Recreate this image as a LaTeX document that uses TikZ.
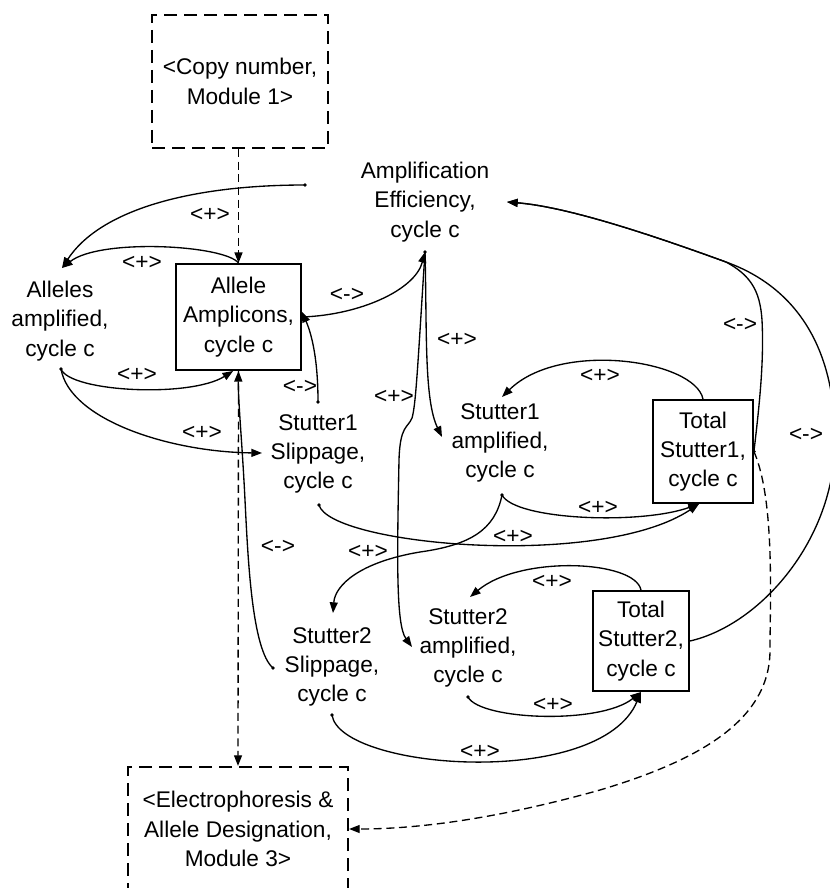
\documentclass[tikz,border=0pt]{standalone}
\usepackage{fontspec}
\setmainfont{Liberation Sans}
\usetikzlibrary{arrows.meta}

\tikzset{every picture/.style={line width=1pt},
  lbl/.style={font=\fontsize{17}{22}\selectfont, align=center, inner sep=0pt},
  box/.style={lbl, draw, line width=1.4pt},
  modbox/.style={lbl, draw, line width=1.6pt, dash pattern=on 10pt off 5pt},
  sgn/.style={font=\fontsize{17}{22}\selectfont, inner sep=0pt},
  link/.style={-{Triangle[length=8pt,width=6pt]}},
  dlink/.style={link, dash pattern=on 6pt off 3.5pt}
}

\begin{document}
\begin{tikzpicture}[x=0.75pt,y=0.75pt,yscale=-1,xscale=1]
\useasboundingbox (0,0) rectangle (829,888);
% modules
\node [modbox, minimum width=132pt, minimum height=99.75pt] (cpy) at (240,81.5) {<Copy number,\\Module 1>};
\node [modbox, minimum width=165pt, minimum height=93pt] (elec) at (238,829) {<Electrophoresis \&\\Allele Designation,\\Module 3>};
% stocks
\node [box, minimum width=93.75pt, minimum height=79.5pt] (aa) at (238.5,317) {Allele\\Amplicons,\\cycle c};
\node [box, minimum width=75pt, minimum height=77.25pt] (ts1) at (703,451.5) {Total\\Stutter1,\\cycle c};
\node [box, minimum width=72pt, minimum height=75pt] (ts2) at (641,641) {Total\\Stutter2,\\cycle c};
% variables
\node [lbl] (ae) at (425,202) {Amplification\\Efficiency,\\cycle c};
\node [lbl] (alamp) at (60,321) {Alleles\\amplified,\\cycle c};
\node [lbl] (s1s) at (318,454) {Stutter1\\Slippage,\\cycle c};
\node [lbl] (s1a) at (500,443) {Stutter1\\amplified,\\cycle c};
\node [lbl] (s2s) at (332,667) {Stutter2\\Slippage,\\cycle c};
\node [lbl] (s2a) at (468,648) {Stutter2\\amplified,\\cycle c};

\coordinate (ae-s) at (425,252);
\coordinate (ae-e) at (507,202);
\coordinate (ae-w) at (305,185);
\coordinate (al-n) at (62,268);
\coordinate (al-s) at (61,369);
\coordinate (s1s-n) at (318,402);
\coordinate (s1s-w) at (262,453);
\coordinate (s1s-s) at (319,505);
\coordinate (s1a-n) at (502,397);
\coordinate (s1a-w) at (442,437);
\coordinate (s1a-s) at (502,495);
\coordinate (s2s-n) at (333,613);
\coordinate (s2s-w) at (273,668);
\coordinate (s2s-s) at (332,715);
\coordinate (s2a-n) at (470,597);
\coordinate (s2a-w) at (412,647);
\coordinate (s2a-s) at (468,697);

% links
\draw [dlink] (cpy.south -| aa.north) -- (aa.north);
\draw [dlink] (aa.south) -- (elec.north);
\draw [link] (ae-w) .. controls (190,185) and (100,210) .. (al-n);
\draw [link] (aa.north) .. controls (225,245) and (100,238) .. (al-n);
\draw [link] (al-s) .. controls (70,392) and (190,398) .. ([xshift=-4pt]aa.south);
\draw [link] (al-s) .. controls (70,420) and (170,452) .. (s1s-w);
\draw [link] (aa.east) .. controls (360,315) and (415,290) .. (ae-s);
\draw [link] (s1s-n) .. controls (318,360) and (312,335) .. ([yshift=-4pt]aa.east);
\draw [link] (ae-s) .. controls (427,330) and (424,400) .. (s1a-w);
\draw [link] (ae-s) .. controls (418,360) and (416,405) .. (412,418) .. controls (408,428) and (400,425) .. (399,460) .. controls (397,560) and (396,625) .. (s2a-w);
\draw [link] (ts1.east) .. controls (760,400) and (764,360) .. (762,320) .. controls (760,290) and (750,275) .. (726,262) .. controls (660,238) and (570,207) .. (ae-e);
\draw [link] (ts2.east) .. controls (760,625) and (835,540) .. (835,440) .. controls (835,340) and (790,285) .. (726,262) .. controls (660,238) and (570,207) .. (ae-e);
\draw [dlink] (ts1.east) .. controls (775,500) and (770,600) .. (770,650) .. controls (770,720) and (700,760) .. (600,790) .. controls (500,818) and (420,829) .. (elec.east);
\draw [link] (ts1.north) .. controls (695,360) and (560,340) .. (s1a-n);
\draw [link] (s1a-s) .. controls (515,520) and (640,525) .. ([xshift=-3pt]ts1.south);
\draw [link] (s1s-s) .. controls (330,545) and (600,570) .. ([xshift=-3pt]ts1.south);
\draw [link] (s1a-s) .. controls (495,530) and (470,545) .. (420,552) .. controls (360,562) and (335,585) .. (s2s-n);
\draw [link] (ts2.north) .. controls (635,560) and (520,555) .. (s2a-n);
\draw [link] (s2a-s) .. controls (480,720) and (600,725) .. (ts2.south);
\draw [link] (s2s-s) .. controls (340,770) and (600,790) .. (ts2.south);
\draw [link] (s2s-w) .. controls (252,650) and (248,560) .. (245,500) .. controls (242,440) and (238,400) .. (aa.south);

% dots
\foreach \p in {ae-s,ae-w,al-s,s1s-n,s1s-s,s1a-s,s2s-w,s2s-s,s2a-s,aa.east,ts1.east}
  \fill (\p) circle (1.4pt);

% polarities
\node [sgn] (l1) at (210,215) {<+>};
\node [sgn] (l2) at (142,263) {<+>};
\node [sgn] (l3) at (137,375) {<+>};
\node [sgn] (l4) at (202,433) {<+>};
\node [sgn] (l5) at (347,295) {<->};
\node [sgn] (l6) at (300,387) {<->};
\node [sgn] (l7) at (457,340) {<+>};
\node [sgn] (l8) at (394,397) {<+>};
\node [sgn] (l9) at (600,376) {<+>};
\node [sgn] (l10) at (740,325) {<->};
\node [sgn] (l11) at (806,435) {<->};
\node [sgn] (l12) at (598,508) {<+>};
\node [sgn] (l13) at (513,537) {<+>};
\node [sgn] (l14) at (368,552) {<+>};
\node [sgn] (l15) at (278,547) {<->};
\node [sgn] (l16) at (552,582) {<+>};
\node [sgn] (l17) at (553,705) {<+>};
\node [sgn] (l18) at (480,752) {<+>};
\end{tikzpicture}
\end{document}
